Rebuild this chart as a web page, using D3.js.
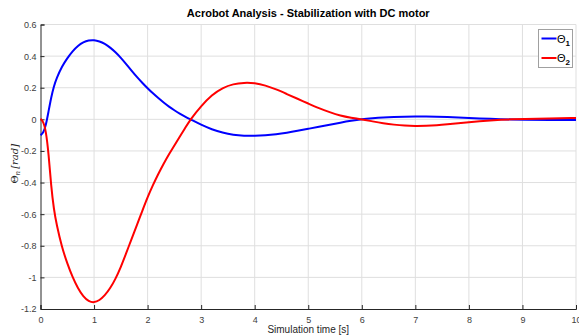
<!DOCTYPE html>
<html>
<head>
<meta charset="utf-8">
<script src="https://cdn.jsdelivr.net/npm/d3@7"></script>
<style>
  body { margin: 0; background: #fff; }
  svg { display: block; font-family: "Liberation Sans", Arial, sans-serif; }
</style>
</head>
<body>
<div id="chart"></div>
<script>
// values
const time = [0, 0.05, 0.1, 0.15, 0.2, 0.25, 0.3, 0.4, 0.5, 0.6, 0.7, 0.8, 0.9, 1.0, 1.1, 1.2, 1.3, 1.4, 1.5, 1.6, 1.7, 1.8, 1.9, 2.0,
  2.1, 2.2, 2.3, 2.4, 2.5, 2.6, 2.7, 2.8, 3.0, 3.2, 3.4, 3.6, 3.8, 4.0, 4.2, 4.4, 4.6, 4.8, 5.0, 5.2, 5.4, 5.6, 5.8, 6.0,
  6.2, 6.4, 6.6, 6.8, 7.0, 7.2, 7.4, 7.6, 7.8, 8.0, 8.2, 8.4, 8.6, 8.8, 9.0, 9.5, 10];
const theta1 = [-0.1, -0.088, -0.04, 0.05, 0.14, 0.21, 0.26, 0.335, 0.387, 0.432, 0.466, 0.489, 0.5, 0.502, 0.494, 0.478, 0.455, 0.425, 0.39, 0.35, 0.308, 0.268, 0.231, 0.196,
  0.164, 0.134, 0.106, 0.08, 0.057, 0.036, 0.017, 0.0, -0.035, -0.064, -0.085, -0.098, -0.104, -0.105, -0.102, -0.095, -0.085, -0.073, -0.06, -0.047, -0.034, -0.021, -0.009, 0.001,
  0.007, 0.012, 0.015, 0.017, 0.018, 0.018, 0.017, 0.015, 0.012, 0.009, 0.006, 0.003, 0.001, -0.001, -0.002, -0.004, -0.004];
const theta2 = [0.003, -0.012, -0.07, -0.21, -0.43, -0.57, -0.665, -0.81, -0.912, -1.0, -1.07, -1.122, -1.152, -1.16, -1.146, -1.115, -1.07, -1.01, -0.935, -0.847, -0.757, -0.67, -0.58, -0.492,
  -0.415, -0.345, -0.28, -0.22, -0.165, -0.11, -0.055, 0.0, 0.085, 0.155, 0.2, 0.224, 0.232, 0.23, 0.215, 0.19, 0.16, 0.13, 0.1, 0.07, 0.045, 0.023, 0.01, 0.0,
  -0.013, -0.025, -0.034, -0.04, -0.042, -0.041, -0.038, -0.032, -0.025, -0.018, -0.012, -0.007, -0.003, 0.0, 0.002, 0.006, 0.008];
const xTicks = [0, 1, 2, 3, 4, 5, 6, 7, 8, 9, 10];
const yTicks = [-1.2, -1, -0.8, -0.6, -0.4, -0.2, 0, 0.2, 0.4, 0.6];
const seriesNames = ["1", "2"];
const seriesColors = ["#0000ff", "#ff0000"];

const W = 579, H = 336;
const m = { left: 40.5, right: 3, top: 24.5, bottom: 27 };

const svg = d3.select("#chart").append("svg")
  .attr("width", W)
  .attr("height", H);

const x = d3.scaleLinear().domain([0, 10]).range([m.left, W - m.right]);
const y = d3.scaleLinear().domain([-1.2, 0.6]).range([H - m.bottom, m.top]);

// grid
svg.append("g")
  .selectAll("line.vx")
  .data(xTicks.slice(1))
  .enter().append("line")
    .attr("x1", d => x(d)).attr("x2", d => x(d))
    .attr("y1", y(-1.2)).attr("y2", y(0.6))
    .style("stroke", "#dfdfdf").style("stroke-width", 1);
svg.append("g")
  .selectAll("line.hy")
  .data(yTicks.slice(1))
  .enter().append("line")
    .attr("x1", x(0)).attr("x2", x(10))
    .attr("y1", d => y(d)).attr("y2", d => y(d))
    .style("stroke", "#dfdfdf").style("stroke-width", 1);

// axes
const xAxis = svg.append("g")
  .attr("transform", `translate(0,${y(-1.2)})`)
  .call(d3.axisBottom(x).tickValues(xTicks).tickSize(-4).tickPadding(8).tickFormat(d3.format("d")));
const yAxis = svg.append("g")
  .attr("transform", `translate(${x(0)},0)`)
  .call(d3.axisLeft(y).tickValues(yTicks).tickSize(-4).tickPadding(4).tickFormat(d => d === 0 ? "0" : String(d)));

[xAxis, yAxis].forEach(a => {
  a.select(".domain").style("stroke", "#262626");
  a.selectAll(".tick line").style("stroke", "#262626");
  a.selectAll("text").style("font-size", "9px").style("fill", "#404040")
    .style("font-family", "'Liberation Sans', Arial, sans-serif");
});

// curves
const line = d3.line()
  .x(d => x(d[0]))
  .y(d => y(d[1]))
  .curve(d3.curveBasis);

[theta1, theta2].forEach((vals, i) => {
  svg.append("path")
    .datum(time.map((t, k) => [t, vals[k]]))
    .attr("d", line)
    .style("fill", "none")
    .style("stroke", seriesColors[i])
    .style("stroke-width", 2);
});

// title
svg.append("text")
  .attr("x", (m.left + W - m.right) / 2)
  .attr("y", 17)
  .attr("text-anchor", "middle")
  .style("font-size", "11px")
  .style("font-weight", "bold")
  .style("fill", "#000")
  .text("Acrobot Analysis - Stabilization with DC motor");

// axis labels
svg.append("text")
  .attr("x", (m.left + W - m.right) / 2)
  .attr("y", 333)
  .attr("text-anchor", "middle")
  .style("font-size", "10px")
  .style("fill", "#262626")
  .text("Simulation time [s]");

const yl = svg.append("text")
  .attr("transform", `translate(18,${(m.top + H - m.bottom) / 2 - 3}) rotate(-90)`)
  .attr("text-anchor", "middle")
  .style("font-size", "10px")
  .style("fill", "#262626")
  .style("font-family", "'DejaVu Serif', 'Liberation Serif', serif");
yl.append("tspan").text("Θ");
yl.append("tspan").attr("dy", 2).style("font-size", "7px").style("font-style", "italic").text("n");
yl.append("tspan").attr("dy", -2).attr("dx", 2).style("font-style", "italic").text("[rad]");

// legend
const lg = svg.append("g").attr("transform", "translate(538.5,29.5)");
lg.append("rect")
  .attr("width", 34).attr("height", 38)
  .style("fill", "#fff").style("stroke", "#a0a0a0");
seriesNames.forEach((n, i) => {
  const ly = 9 + i * 19.5;
  lg.append("line")
    .attr("x1", 3).attr("x2", 18).attr("y1", ly).attr("y2", ly)
    .style("stroke", seriesColors[i]).style("stroke-width", 2);
  const t = lg.append("text")
    .attr("x", 18.5).attr("y", ly + 4)
    .style("font-size", "11px").style("fill", "#000");
  t.append("tspan").text("Θ");
  t.append("tspan").attr("dy", 3).style("font-size", "8px").style("font-weight", "bold").text(n);
});
</script>
</body>
</html>
